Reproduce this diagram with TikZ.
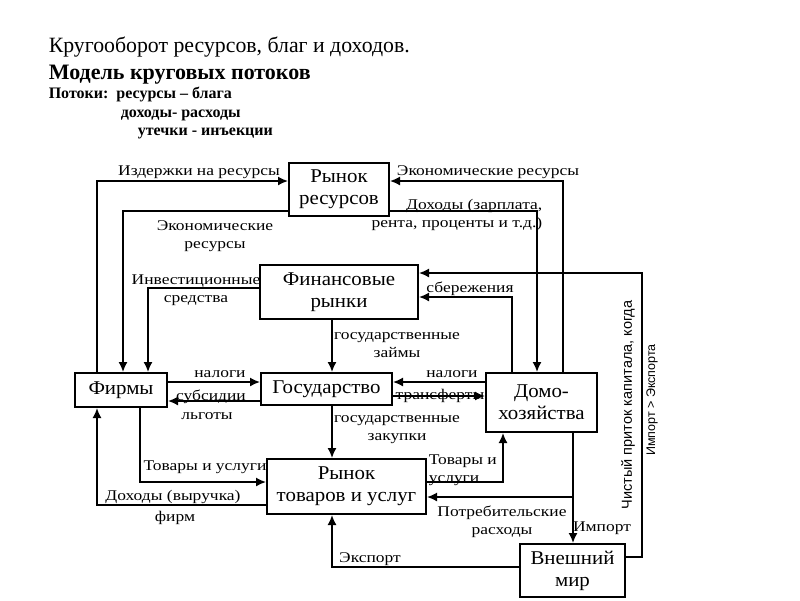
\documentclass[tikz,border=0pt]{standalone}
\usepackage{fontspec}
\setmainfont{Liberation Serif}
\newfontfamily\vfont{Liberation Sans}
\newfontfamily\lblfont[FakeStretch=1.18]{Liberation Serif}
\newfontfamily\boxfont[FakeStretch=1.07]{Liberation Serif}
\usetikzlibrary{arrows.meta}

\begin{document}
\begin{tikzpicture}[x=1pt, y=-1pt, line width=1.6pt,
                    box/.style={draw, line width=2pt, align=center, inner sep=0pt,
                                font=\boxfont\fontsize{19.5}{22}\selectfont},
                    lbl/.style={inner sep=0pt, align=center,
                                font=\lblfont\fontsize{14.8}{18}\selectfont},
                    arr/.style={-{Latex[length=10pt,width=9pt]}}]
    \useasboundingbox (0,0) rectangle (800,600);
    \node[anchor=base west, inner sep=0pt, font=\fontsize{21.8}{24}\selectfont] (t1) at (48,52) {Кругооборот ресурсов, благ и доходов.};
    \node[anchor=base west, inner sep=0pt, font=\fontsize{22}{24}\bfseries] (t2) at (48,79) {Модель круговых потоков};
    \node[anchor=base west, inner sep=0pt, font=\fontsize{16}{17}\bfseries] (t3) at (48,98) {Потоки:\ \ ресурсы -- блага};
    \node[anchor=base west, inner sep=0pt, font=\fontsize{16}{17}\bfseries] (t4) at (120,117) {доходы- расходы};
    \node[anchor=base west, inner sep=0pt, font=\fontsize{16}{17}\bfseries] (t5) at (137,135) {утечки - инъекции};

    \node[box, minimum width=100pt, minimum height=53pt] (resmkt) at (339,189.5) {Рынок\\ресурсов};
    \node[box, minimum width=158pt, minimum height=54pt] (finmkt) at (339,292) {Финансовые\\рынки};
    \node[box, minimum width=92pt,  minimum height=34pt] (firms)  at (121,390) {Фирмы};
    \node[box, minimum width=131pt, minimum height=32pt] (gov)    at (326.5,389) {Государство};
    \node[box, minimum width=111pt, minimum height=59pt] (hh)     at (541.5,402.5) {Домо-\\хозяйства};
    \node[box, minimum width=159pt, minimum height=55pt] (gmkt)   at (346.5,486.5) {Рынок\\товаров и услуг};
    \node[box, minimum width=105pt, minimum height=53pt] (world)  at (572.5,570.5) {Внешний\\мир};

    \coordinate (r1) at (97,181);
    \coordinate (r2) at (563,181);
    \coordinate (r3) at (123,211);
    \coordinate (r4) at (537,211);
    \coordinate (r5) at (148,288);
    \coordinate (r6) at (512,297);
    \coordinate (r7) at (642,557);
    \coordinate (r8) at (642,273);
    \coordinate (vx) at (332,340);
    \coordinate (r9) at (200,382);
    \coordinate (r10) at (200,401);
    \coordinate (r11) at (440,382);
    \coordinate (r12) at (440,396);
    \coordinate (r13) at (140,482);
    \coordinate (r14) at (97,505);
    \coordinate (r15) at (503,482);
    \coordinate (r16) at (573,497);
    \coordinate (r17) at (332,567);

    \draw[arr] (r1 |- firms.north) -- (r1) -- (r1 -| resmkt.west);
    \draw[arr] (r2 |- hh.north) -- (r2) -- (r2 -| resmkt.east);
    \draw[arr] (r3 -| resmkt.west) -- (r3) -- (r3 |- firms.north);
    \draw[arr] (r4 -| resmkt.east) -- (r4) -- (r4 |- hh.north);
    \draw[arr] (r5 -| finmkt.west) -- (r5) -- (r5 |- firms.north);
    \draw[arr] (r6 |- hh.north) -- (r6) -- (r6 -| finmkt.east);
    \draw[arr] (r7 -| world.east) -- (r7) -- (r8) -- (r8 -| finmkt.east);
    \draw[arr] (vx |- finmkt.south) -- (vx |- gov.north);
    \draw[arr] (r9 -| firms.east) -- (r9 -| gov.west);
    \draw[arr] (r10 -| gov.west) -- (r10 -| firms.east);
    \draw[arr] (r11 -| hh.west) -- (r11 -| gov.east);
    \draw[arr] (r12 -| gov.east) -- (r12 -| hh.west);
    \draw[arr] (vx |- gov.south) -- (vx |- gmkt.north);
    \draw[arr] (r13 |- firms.south) -- (r13) -- (r13 -| gmkt.west);
    \draw[arr] (r14 -| gmkt.west) -- (r14) -- (r14 |- firms.south);
    \draw[arr] (r15 -| gmkt.east) -- (r15) -- (r15 |- hh.south);
    \draw[arr] (r16 |- hh.south) -- (r16 |- world.north);
    \draw[arr] (r16) -- (r16 -| gmkt.east);
    \draw[arr] (r17 -| world.west) -- (r17) -- (r17 |- gmkt.south);

    \node[lbl] (l1) at (199,172) {Издержки на ресурсы};
    \node[lbl] (l2) at (488,172) {Экономические ресурсы};
    \node[lbl] (l3) at (215,236) {Экономические\\ресурсы};
    \node[lbl, align=right, anchor=east] (l4) at (543,215) {Доходы (зарплата,\\рента, проценты и т.д.)};
    \node[lbl] (l5) at (196,290) {Инвестиционные\\средства};
    \node[lbl] (l6) at (470,289) {сбережения};
    \node[lbl] (l7) at (397,345) {государственные\\займы};
    \node[lbl] (l8) at (220,374) {налоги};
    \node[lbl] (l9) at (211,397) {субсидии};
    \node[lbl] (l10) at (207,416) {льготы};
    \node[lbl] (l11) at (452,374) {налоги};
    \node[lbl] (l12) at (440,396) {трансферты};
    \node[lbl] (l13) at (397,430) {государственные\\закупки};
    \node[lbl] (l14) at (205,467) {Товары и услуги};
    \node[lbl] (l15) at (173,497) {Доходы (выручка)};
    \node[lbl] (l16) at (175,518) {фирм};
    \node[lbl, align=left, anchor=west] (l17) at (428,470) {Товары и\\услуги};
    \node[lbl] (l18) at (502,522) {Потребительские\\расходы};
    \node[lbl] (l19) at (602,528) {Импорт};
    \node[lbl] (l20) at (370,559) {Экспорт};
    \node[lbl, rotate=90, font=\vfont\fontsize{14.5}{15}\selectfont] (l21) at (628,405) {Чистый приток капитала, когда};
    \node[lbl, rotate=90, font=\vfont\fontsize{12.5}{15}\selectfont] (l22) at (652,400) {Импорт > Экспорта};
\end{tikzpicture}
\end{document}
